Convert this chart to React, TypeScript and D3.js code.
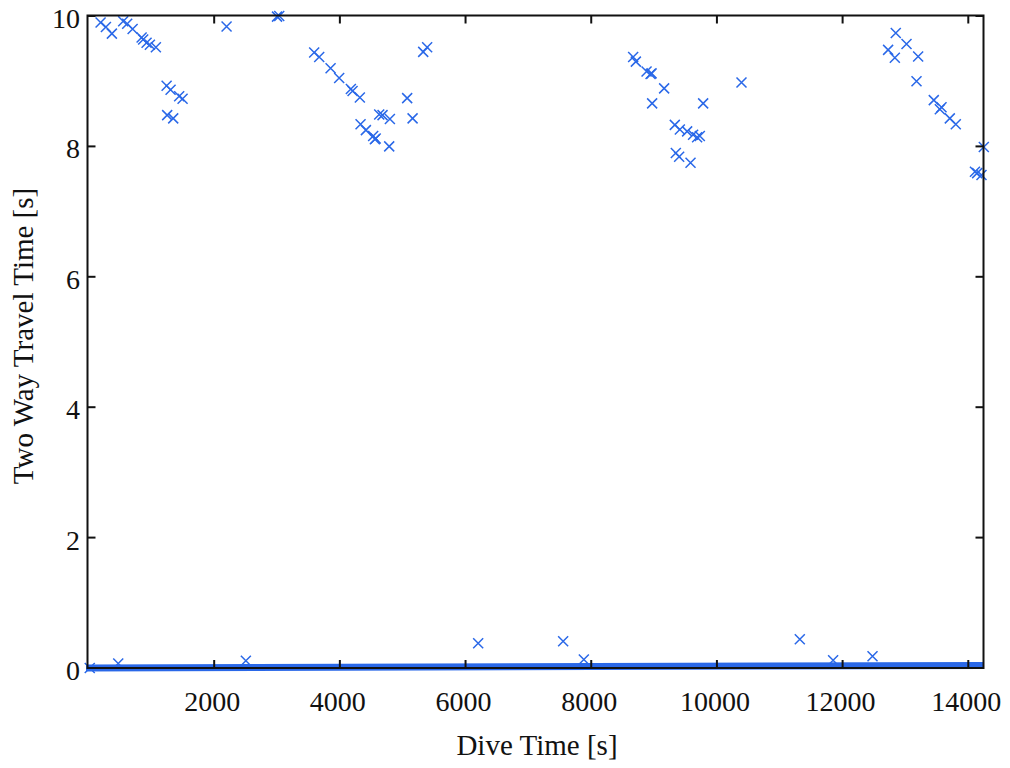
import React from "react";
import * as d3 from "d3";

// Dive time [s] and two-way travel time [s] of each detection
const diveTime: number[] = [
  192, 277, 372, 552, 616, 702, 845, 870, 924, 977, 1072,
  1243, 1306, 1443, 1497, 1252, 1348, 2197, 3000, 3035,
  3591, 3671, 3852, 3989, 4175, 4202, 4318, 4329, 4414, 4530, 4557, 4570,
  4626, 4679, 4796, 4785, 5071, 5157, 5326, 5389,
  8667, 8710, 8880, 8944, 8960, 9160, 8969, 9781, 10391,
  9330, 9410, 9526, 9621, 9685, 9728, 9346, 9399, 9580,
  12846, 13017, 12724, 12831, 13202, 13176, 13451, 13547, 13574, 13706, 13801,
  14247, 14106, 14141, 14210,
  473, 2504, 6201, 7553, 7882, 11319, 11849, 12476, 20,
];
const travelTime: number[] = [
  9.9, 9.83, 9.73, 9.92, 9.88, 9.8, 9.67, 9.64, 9.59, 9.56, 9.52,
  8.93, 8.87, 8.77, 8.73, 8.48, 8.43, 9.84, 9.99, 10.0,
  9.44, 9.37, 9.2, 9.05, 8.88, 8.85, 8.75, 8.34, 8.25, 8.16, 8.11, 8.12,
  8.49, 8.48, 8.42, 8.0, 8.74, 8.43, 9.45, 9.52,
  9.37, 9.3, 9.15, 9.11, 9.12, 8.89, 8.66, 8.66, 8.98,
  8.33, 8.26, 8.23, 8.18, 8.14, 8.16, 7.9, 7.84, 7.75,
  9.74, 9.57, 9.48, 9.36, 9.38, 9.0, 8.71, 8.57, 8.6, 8.43, 8.34,
  7.99, 7.61, 7.59, 7.56,
  0.07, 0.11, 0.38, 0.41, 0.13, 0.44, 0.12, 0.18, 0.0,
];
// dense band of near-zero detections along the bottom
const baselineTime: number[] = [-40, 14250];
const baselineValue: number[] = [0.0, 0.04];

const xTicks: number[] = [2000, 4000, 6000, 8000, 10000, 12000, 14000];
const yTicks: number[] = [0, 2, 4, 6, 8, 10];

const W = 1010;
const H = 768;
const left = 87.5;
const right = 983.5;
const top = 15.5;
const bottom = 668;
const BLUE = "#2a68e8";
const FONT = "'Liberation Serif', 'Times New Roman', serif";

export default function App() {
  const x = d3.scaleLinear().domain([0, 14250]).range([88.5, 984]);
  const y = d3.scaleLinear().domain([0, 10]).range([668, 16]);
  const band = d3
    .line<number>()
    .x((_, i) => x(baselineTime[i]))
    .y((d) => y(d))(baselineValue) as string;
  const s = 5;
  const tickLen = 8;
  return (
    <svg
      width={W}
      height={H}
      style={{ position: "absolute", left: 0, top: 0, background: "#fff" }}
      fontFamily={FONT}
    >
      <path d={band} stroke={BLUE} strokeWidth={7} fill="none" />
      {diveTime.map((t, i) => {
        const cx = x(t);
        const cy = y(travelTime[i]);
        return (
          <path
            key={i}
            d={`M${cx - s},${cy - s}L${cx + s},${cy + s}M${cx - s},${cy + s}L${cx + s},${cy - s}`}
            stroke={BLUE}
            strokeWidth={1.5}
            fill="none"
          />
        );
      })}
      <rect
        x={left}
        y={top}
        width={right - left}
        height={bottom - top}
        fill="none"
        stroke="#111"
        strokeWidth={2}
      />
      {xTicks.map((t) => (
        <g key={"x" + t}>
          <line x1={x(t)} x2={x(t)} y1={bottom} y2={bottom - tickLen} stroke="#111" strokeWidth={2} />
          <line x1={x(t)} x2={x(t)} y1={top} y2={top + tickLen} stroke="#111" strokeWidth={2} />
          <text x={x(t) - 2} y={711} textAnchor="middle" fontSize={28} fill="#111">
            {t}
          </text>
        </g>
      ))}
      {yTicks.map((t) => (
        <g key={"y" + t}>
          <line x1={left} x2={left + tickLen} y1={y(t)} y2={y(t)} stroke="#111" strokeWidth={2} />
          <line x1={right} x2={right - tickLen} y1={y(t)} y2={y(t)} stroke="#111" strokeWidth={2} />
          <text x={80} y={y(t) + 12} textAnchor="end" fontSize={28} fill="#111">
            {t}
          </text>
        </g>
      ))}
      <text x={537} y={755} textAnchor="middle" fontSize={29} fill="#111">
        Dive Time [s]
      </text>
      <text
        transform="translate(33,336) rotate(-90)"
        textAnchor="middle"
        fontSize={29}
        fill="#111"
      >
        Two Way Travel Time [s]
      </text>
    </svg>
  );
}
